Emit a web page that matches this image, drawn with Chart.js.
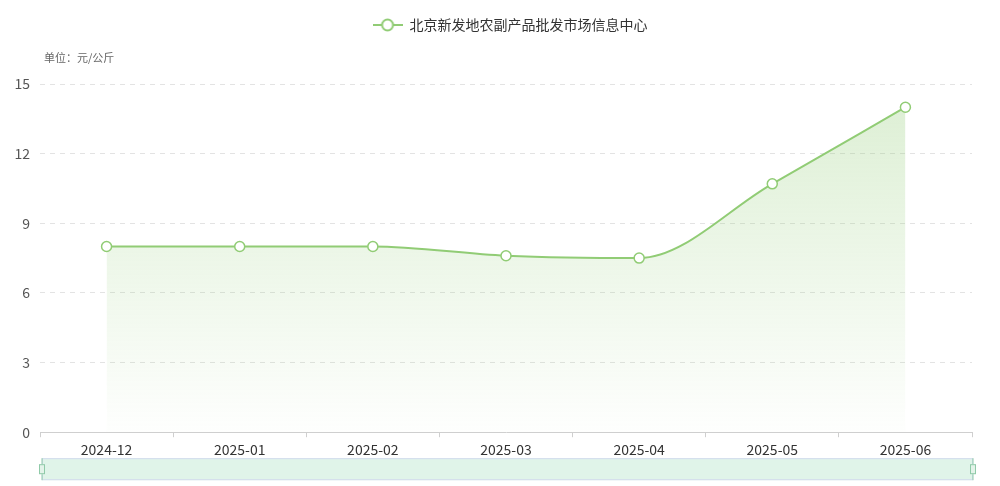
<!DOCTYPE html>
<html>
<head>
<meta charset="utf-8">
<script src="https://cdn.jsdelivr.net/npm/chart.js@4/dist/chart.umd.min.js"></script>
<style>
  html, body { margin: 0; padding: 0; background: #fff; }
  #wrap { width: 1000px; height: 486px; }
</style>
</head>
<body>
<div id="wrap"><canvas id="price_chart"></canvas></div>
<script>
const months = ['2024-12', '2025-01', '2025-02', '2025-03', '2025-04', '2025-05', '2025-06'];
const prices = [8, 8, 8, 7.6, 7.5, 10.7, 14];
const seriesName = '北京新发地农副产品批发市场信息中心';
const unitText = '单位：元/公斤';

const green = '#91cc75';
const fontFamily = "'Noto Sans CJK SC', 'Noto Sans', sans-serif";

// legend icon: short line with a hollow circle (echarts style)
function legendIcon() {
    const c = document.createElement('canvas');
    c.width = 30; c.height = 14;
    const g = c.getContext('2d');
    g.strokeStyle = green;
    g.lineWidth = 2;
    g.beginPath(); g.moveTo(0, 7); g.lineTo(30, 7); g.stroke();
    g.beginPath(); g.arc(15, 7, 5.5, 0, Math.PI * 2);
    g.fillStyle = '#fff'; g.fill(); g.stroke();
    return c;
}

// more room under the legend, legend nudged right a bit
const legendSpace = {
    id: 'legendSpace',
    beforeInit(chart) {
        const orig = chart.legend.fit;
        chart.legend.fit = function () {
            orig.bind(chart.legend)();
            this.height += 42;
        };
    },
    afterLayout(chart) {
        chart.legend.left += 24;
        chart.legend.right += 24;
    }
};

// unit label + fake dataZoom slider under the x axis
const extras = {
    id: 'extras',
    afterDraw(chart) {
        const { ctx, chartArea } = chart;
        ctx.save();
        ctx.font = '11px ' + fontFamily;
        ctx.fillStyle = '#666';
        ctx.textBaseline = 'middle';
        ctx.fillText(unitText, chartArea.left + 4, 58);

        const top = chartArea.bottom + 26, h = 22;
        const l = chartArea.left + 2, r = chartArea.right + 1;
        ctx.fillStyle = 'rgba(145,214,175,0.28)';
        ctx.fillRect(l, top, r - l, h);
        ctx.strokeStyle = '#d2dbee';
        ctx.lineWidth = 1;
        ctx.strokeRect(l + 0.5, top + 0.5, r - l - 1, h - 1);
        [l, r].forEach(x => {
            ctx.strokeStyle = '#8fcaa8';
            ctx.beginPath(); ctx.moveTo(x, top); ctx.lineTo(x, top + h); ctx.stroke();
            ctx.fillStyle = '#e3f3e9';
            ctx.fillRect(x - 3, top + 6, 6, 10);
            ctx.strokeRect(x - 3 + 0.5, top + 6.5, 5, 9);
        });
        ctx.restore();
    }
};

const ctx = document.getElementById('price_chart').getContext('2d');

new Chart(ctx, {
    type: 'line',
    data: {
        labels: months,
        datasets: [{
            label: seriesName,
            data: prices,
            borderColor: green,
            borderWidth: 2,
            cubicInterpolationMode: 'monotone',
            fill: 'origin',
            backgroundColor: function (context) {
                const area = context.chart.chartArea;
                if (!area) return 'rgba(145,204,117,0.2)';
                const grad = context.chart.ctx.createLinearGradient(0, area.top + 20, 0, area.bottom);
                grad.addColorStop(0, 'rgba(145,204,117,0.3)');
                grad.addColorStop(1, 'rgba(145,204,117,0.01)');
                return grad;
            },
            pointRadius: 5,
            pointBorderWidth: 1.5,
            pointBackgroundColor: '#fff',
            pointBorderColor: green,
            pointHoverRadius: 6
        }]
    },
    options: {
        responsive: true,
        maintainAspectRatio: false,
        animation: false,
        layout: {
            padding: { left: 0, right: 28, top: 0, bottom: 24 }
        },
        plugins: {
            legend: {
                position: 'top',
                labels: {
                    color: '#333',
                    font: { family: fontFamily, size: 14 },
                    usePointStyle: true,
                    pointStyle: legendIcon(),
                    pointStyleWidth: 30,
                    padding: 18
                }
            },
            tooltip: { enabled: true }
        },
        scales: {
            x: {
                offset: true,
                grid: {
                    offset: true,
                    drawOnChartArea: false,
                    drawTicks: true,
                    tickLength: 5,
                    color: '#cfcfcf'
                },
                border: { color: '#cfcfcf' },
                ticks: {
                    color: '#333',
                    font: { family: fontFamily, size: 14 },
                    padding: 4,
                    maxRotation: 0
                }
            },
            y: {
                min: 0,
                max: 15,
                ticks: {
                    stepSize: 3,
                    color: '#555',
                    font: { family: fontFamily, size: 14 },
                    padding: 10
                },
                border: { display: false, dash: [5, 5] },
                grid: {
                    color: '#e3e3e3',
                    drawTicks: false
                },
                afterFit(scale) { scale.width = 40; }
            }
        }
    },
    plugins: [extras, legendSpace]
});
</script>
</body>
</html>
